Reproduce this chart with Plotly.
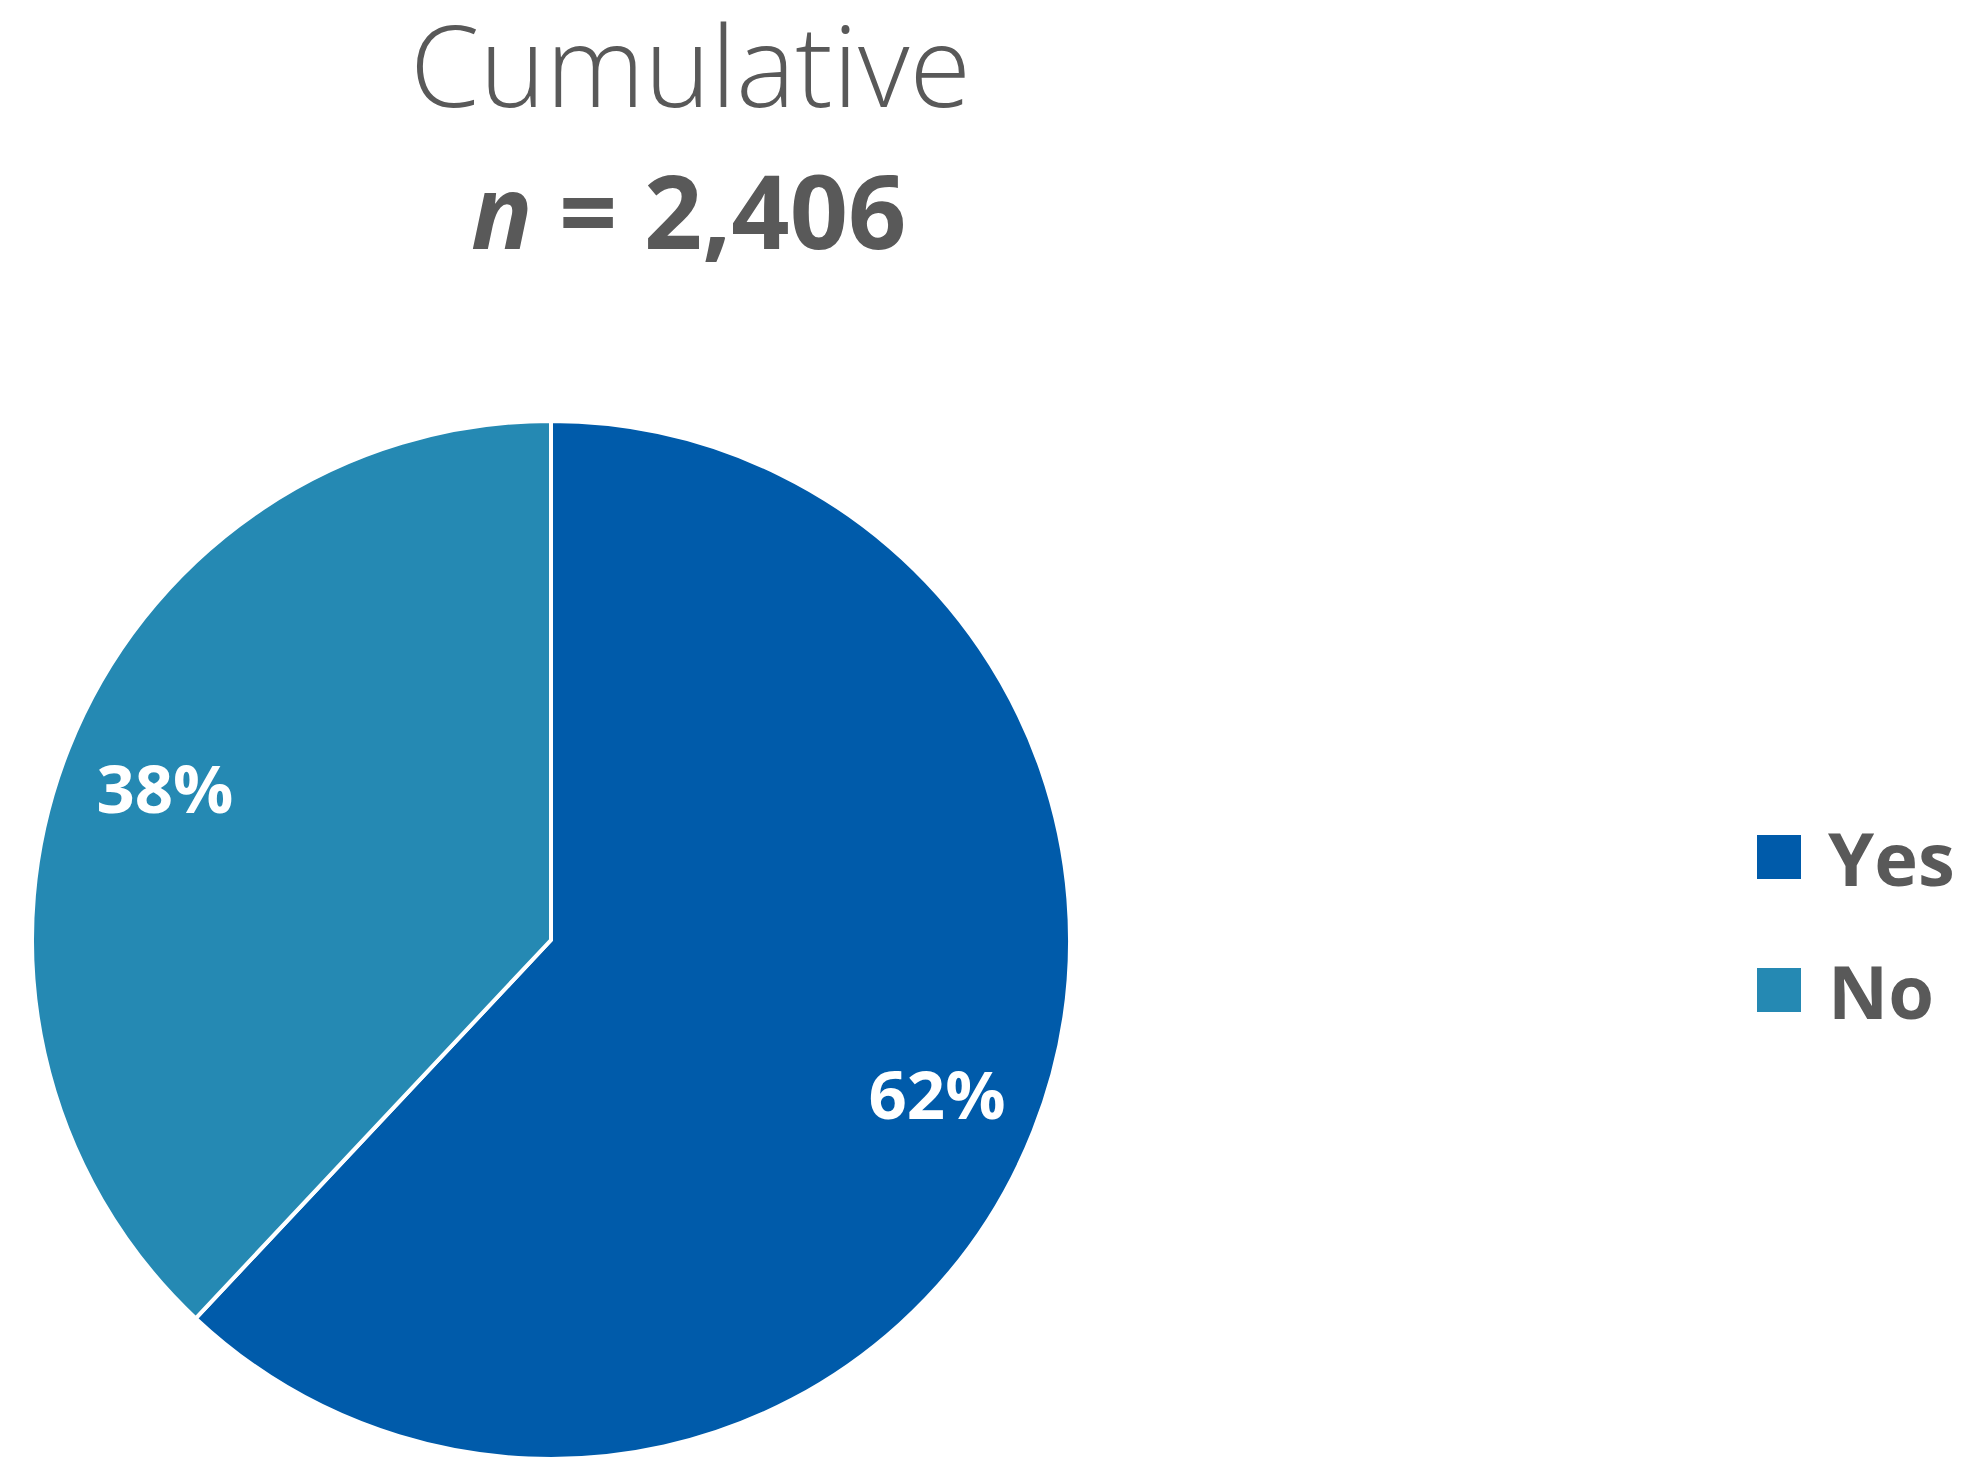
import plotly.graph_objects as go

labels = ["Yes", "No"]
values = [62, 38]
colors = ["#005BAA", "#2589B3"]
title_line1 = "Cumulative"
title_line2 = "<i>n</i> = 2,406"

W, H = 1967, 1459
FONT = "Open Sans"
GRAY = "#595959"
DOMAIN = dict(x=[32 / W, 1070 / W], y=[0, 1038 / H])

fig = go.Figure()
# full pie (slices)
fig.add_trace(go.Pie(
    labels=labels,
    values=values,
    sort=False,
    direction="clockwise",
    rotation=0,
    marker=dict(colors=colors, line=dict(color="white", width=4)),
    textinfo="none",
    domain=DOMAIN,
    showlegend=False,
    hoverinfo="label+percent",
))
# transparent ring overlay carrying the percentage labels placed toward the rim
fig.add_trace(go.Pie(
    labels=labels,
    values=values,
    sort=False,
    direction="clockwise",
    rotation=0,
    hole=0.6,
    marker=dict(colors=["rgba(0,0,0,0)"] * len(values), line=dict(width=0)),
    texttemplate="%{percent:.0%}",
    textposition="inside",
    insidetextorientation="horizontal",
    textfont=dict(family=FONT, size=67, color="white", weight="bold"),
    domain=DOMAIN,
    showlegend=False,
    hoverinfo="skip",
))

annotations = [
    dict(text=title_line1, x=690 / W, y=1 - 64 / H, xref="paper", yref="paper",
         showarrow=False, xanchor="center", yanchor="middle",
         font=dict(family=FONT, size=112, color=GRAY, weight=300)),
    dict(text=title_line2, x=688 / W, y=1 - 209 / H, xref="paper", yref="paper",
         showarrow=False, xanchor="center", yanchor="middle",
         font=dict(family=FONT, size=102, color=GRAY, weight="bold")),
]
shapes = []
legend_y = [857, 990]
for lab, col, yc in zip(labels, colors, legend_y):
    shapes.append(dict(type="rect", xref="paper", yref="paper",
                       x0=1757 / W, x1=1801 / W,
                       y0=1 - (yc + 22) / H, y1=1 - (yc - 22) / H,
                       fillcolor=col, line=dict(width=0)))
    annotations.append(dict(text=lab, x=1826 / W, y=1 - yc / H, xref="paper", yref="paper",
                            showarrow=False, xanchor="left", yanchor="middle",
                            font=dict(family=FONT, size=74, color=GRAY, weight="bold")))

fig.update_layout(
    width=W, height=H,
    margin=dict(l=0, r=0, t=0, b=0),
    paper_bgcolor="white", plot_bgcolor="white",
    annotations=annotations,
    shapes=shapes,
)

fig.write_html("out.html")
